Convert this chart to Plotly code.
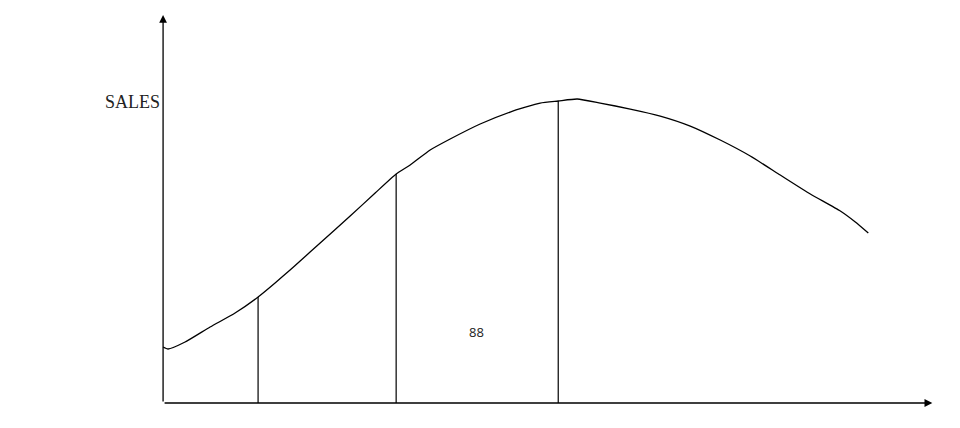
import plotly.graph_objects as go

# Product life cycle: time (0-100) vs sales (0-100)
time = [0, 0.65, 2.86, 6.11, 9.36, 12.35, 14.56, 16.51, 17.82, 20.42, 24.32, 27.57,
        30.30, 32.12, 34.72, 37.32, 41.22, 45.12, 49.02, 51.37, 53.84, 56.83, 60.73,
        64.63, 68.53, 72.43, 76.33, 80.23, 84.14, 88.04, 89.99, 91.68]
sales = [14.43, 13.92, 15.72, 19.59, 23.20, 27.32, 30.93, 34.28, 36.60, 41.24, 48.20,
         54.12, 59.02, 61.34, 65.21, 68.04, 71.91, 75.00, 77.32, 77.84, 78.35, 77.32,
         75.77, 73.97, 71.39, 67.78, 63.66, 58.76, 53.87, 49.48, 46.65, 43.81]
stage_times = [12.35, 30.30, 51.37]
stage_sales = [27.32, 59.02, 77.84]
axis_label = "SALES"
mid_label = "88"

fig = go.Figure()
fig.add_trace(go.Scatter(x=time, y=sales, mode="lines",
                         line=dict(color="black", width=1.3, shape="spline", smoothing=0.5),
                         hoverinfo="skip", showlegend=False))
for t, s in zip(stage_times, stage_sales):
    fig.add_trace(go.Scatter(x=[t, t], y=[0, s], mode="lines",
                             line=dict(color="black", width=1.2),
                             hoverinfo="skip", showlegend=False))

# axes with arrows
fig.add_annotation(x=0, y=100, ax=0, ay=0, xref="x", yref="y", axref="x", ayref="y",
                   showarrow=True, arrowhead=2, arrowsize=1.2, arrowwidth=1.3,
                   arrowcolor="black", text="")
fig.add_annotation(x=100, y=0, ax=0, ay=0, xref="x", yref="y", axref="x", ayref="y",
                   showarrow=True, arrowhead=2, arrowsize=1.2, arrowwidth=1.3,
                   arrowcolor="black", text="")

fig.add_annotation(x=-0.2, y=77.5, xref="x", yref="y", text=axis_label, showarrow=False,
                   xanchor="right", yanchor="middle",
                   font=dict(family="Liberation Serif", size=18, color="#222"))
fig.add_annotation(x=40.8, y=18.3, xref="x", yref="y", text=mid_label, showarrow=False,
                   xanchor="center", yanchor="middle",
                   font=dict(family="Open Sans", size=13, color="#222"))

fig.update_layout(
    width=960, height=428,
    margin=dict(l=0, r=0, t=0, b=0),
    paper_bgcolor="white", plot_bgcolor="white",
    xaxis=dict(range=[-20.16, 104.64], visible=False, fixedrange=True),
    yaxis=dict(range=[-8.5, 101.81], visible=False, fixedrange=True),
)
fig.write_html("out.html")
